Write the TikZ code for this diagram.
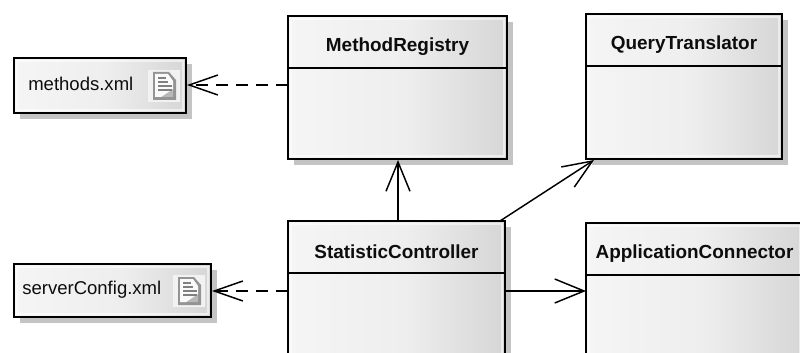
\documentclass[tikz,border=0pt]{standalone}
\usepackage{fontspec}
\setmainfont{Liberation Sans}
\usetikzlibrary{arrows.meta}
\definecolor{boxa}{HTML}{F5F5F5}
\definecolor{boxb}{HTML}{EEEEEE}
\definecolor{boxc}{HTML}{D6D6D6}
\definecolor{shadowc}{HTML}{C4C4C4}
\pgfdeclarehorizontalshading{boxfill}{100bp}{color(0bp)=(boxa); color(25bp)=(boxa); color(52bp)=(boxb); color(75bp)=(boxc); color(100bp)=(boxc)}
\tikzset{
  x=0.75pt,y=-0.75pt,
  umlbox/.style={draw=black,line width=1.25pt,shading=boxfill,shading angle=0,rectangle,inner sep=0pt,outer sep=0pt},
  boxtitle/.style={font=\fontsize{14.2pt}{16pt}\selectfont\bfseries,inner sep=0pt,text=black!95},
  filelabel/.style={font=\fontsize{13.9pt}{16pt}\selectfont,inner sep=0pt,text=black!95},
  divider/.style={draw=black,line width=1.1pt},
  innerlight/.style={draw=white,opacity=0.55,line width=1pt},
  openarrow/.style={draw=black,line width=1.1pt,-{Straight Barb[length=22pt,width=18pt,line width=1.1pt]}},
  dep/.style={draw=black,line width=1.1pt,dash pattern=on 9pt off 6pt,-{Straight Barb[length=21.5pt,width=15pt,line width=1.1pt]}},
}
\newcommand{\shadowbox}[4]{\fill[shadowc] (#1+6,#2+6) rectangle (#3+6,#4+6);}
\newcommand{\lightedge}[4]{\draw[innerlight] (#1+3,#2+3) rectangle (#3-3,#4-3);}
\newcommand{\classbox}[6]{% name x1 y1 x2 y2 text
  \shadowbox{#2}{#3}{#4}{#5}
  \node[umlbox,anchor=north west,minimum width=#4*0.75pt-#2*0.75pt,minimum height=#5*0.75pt-#3*0.75pt] (#1) at (#2,#3) {};
  \lightedge{#2}{#3}{#4}{#5}
  \node[boxtitle] (#1t) at ({(#2+#4)/2},#3+30.5) {#6};
  \draw[divider] (#2,#3+52) -- (#4,#3+52);
}
\newcommand{\fileicon}[2]{%
  \fill[white!90!gray] (#1-16,#2-16) rectangle (#1+16,#2+16);
  \fill[black!42] (#1-11,#2-14) -- (#1+5,#2-14) -- (#1+12,#2-6) -- (#1+12,#2+14) -- (#1-11,#2+14) -- cycle;
  \fill[black!28] (#1-9,#2+11) -- (#1+9,#2+2) -- (#1+9,#2+11) -- cycle;
  \fill[white!96!gray] (#1-9,#2-12) -- (#1+4,#2-12) -- (#1+9,#2-5) -- (#1+9,#2+3) -- (#1-3,#2+11) -- (#1-9,#2+11) -- cycle;
  \draw[black!50,line width=0.9pt] (#1-6,#2-8) -- (#1+2,#2-8) (#1-6,#2-4) -- (#1+4,#2-4) (#1-6,#2) -- (#1+8,#2) (#1-6,#2+4) -- (#1+8,#2+4);
}
\begin{document}
\begin{tikzpicture}
\useasboundingbox (0,0) rectangle (800,353);
\clip (0,0) rectangle (800,353);
\fill[white] (0,0) rectangle (800,353);
\classbox{registry}{288}{16}{507}{159}{MethodRegistry}
\classbox{translator}{586}{14}{782}{159}{QueryTranslator}
\classbox{controller}{288}{221}{505}{380}{StatisticController}
\classbox{connector}{586}{223}{803}{380}{ApplicationConnector}
\shadowbox{14}{58}{186}{113}
\node[umlbox,anchor=north west,minimum width=129pt,minimum height=41.25pt] (methods) at (14,58) {};
\lightedge{14}{58}{186}{113}
\node[filelabel,anchor=west] (methodst) at (28,84) {methods.xml};
\fileicon{164}{86}
\shadowbox{14}{264}{211}{317}
\node[umlbox,anchor=north west,minimum width=147.75pt,minimum height=39.75pt] (server) at (14,264) {};
\lightedge{14}{264}{211}{317}
\node[filelabel,anchor=west] (servert) at (22,289.5) {serverConfig.xml};
\fileicon{189}{291}
\coordinate (a1) at (288,85);
\coordinate (a2) at (187,85);
\coordinate (b1) at (288,291);
\coordinate (b2) at (212,291);
\coordinate (c1) at (398,221);
\coordinate (c2) at (398,160);
\coordinate (d1) at (500,221);
\coordinate (d2) at (594,160);
\coordinate (e1) at (505,291);
\coordinate (e2) at (586,291);
\draw[dep] (a1) -- (a2);
\draw[dep] (b1) -- (b2);
\draw[openarrow] (c1) -- (c2);
\draw[openarrow] (d1) -- (d2);
\draw[openarrow] (e1) -- (e2);
\end{tikzpicture}
\end{document}
